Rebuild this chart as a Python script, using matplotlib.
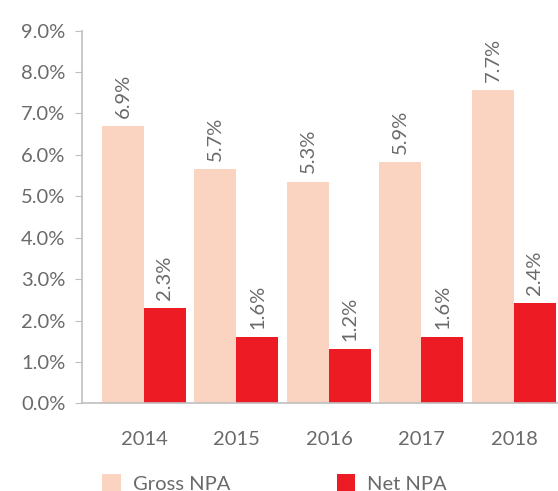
import matplotlib.pyplot as plt
import numpy as np

years = ["2014", "2015", "2016", "2017", "2018"]
gross_npa = [6.70, 5.66, 5.35, 5.83, 7.57]
net_npa = [2.30, 1.60, 1.31, 1.60, 2.42]
gross_labels = ["6.9%", "5.7%", "5.3%", "5.9%", "7.7%"]
net_labels = ["2.3%", "1.6%", "1.2%", "1.6%", "2.4%"]

plt.rcParams["font.family"] = ["Lato", "DejaVu Sans"]

GREY = "#6a6a6a"
FS = 14.5
fig = plt.figure(figsize=(5.58, 4.91), dpi=100)
ax = fig.add_axes([0.147, 0.1786, 0.853, 0.7589])

x = np.arange(len(years))
w = 0.454
b1 = ax.bar(x - w / 2, gross_npa, w, color="#FBD3C1", label="Gross NPA")
b2 = ax.bar(x + w / 2, net_npa, w, color="#ED1C24", label="Net NPA")

for bars, labels in [(b1, gross_labels), (b2, net_labels)]:
    for bar, lab in zip(bars, labels):
        ax.annotate(lab, (bar.get_x() + bar.get_width() / 2, bar.get_height()),
                    xytext=(0, 6), textcoords="offset points",
                    rotation=90, ha="center", va="bottom",
                    fontsize=FS, color=GREY)

ax.set_xlim(-0.67, 4.476)
ax.set_ylim(0, 9)
ax.set_yticks(np.arange(0, 10, 1))
ax.set_yticklabels([f"{v:.1f}%" for v in range(10)])
ax.set_xticks(x)
ax.set_xticklabels(years)
ax.tick_params(axis="y", length=5, color="#BFBFBF", labelsize=FS,
               labelcolor=GREY, pad=7)
ax.tick_params(axis="x", length=0, labelsize=FS, labelcolor=GREY, pad=20)
for s in ["top", "right"]:
    ax.spines[s].set_visible(False)
for s in ["left", "bottom"]:
    ax.spines[s].set_color("#BFBFBF")
    ax.spines[s].set_linewidth(1.2)

fig.legend(handles=[b1, b2], loc="lower left", bbox_to_anchor=(0.151, -0.04),
           ncol=2, frameon=False, fontsize=FS, labelcolor=GREY,
           handlelength=0.9, handleheight=1.0, handletextpad=0.6,
           columnspacing=5.3)

fig.savefig("out.png", dpi=100)
